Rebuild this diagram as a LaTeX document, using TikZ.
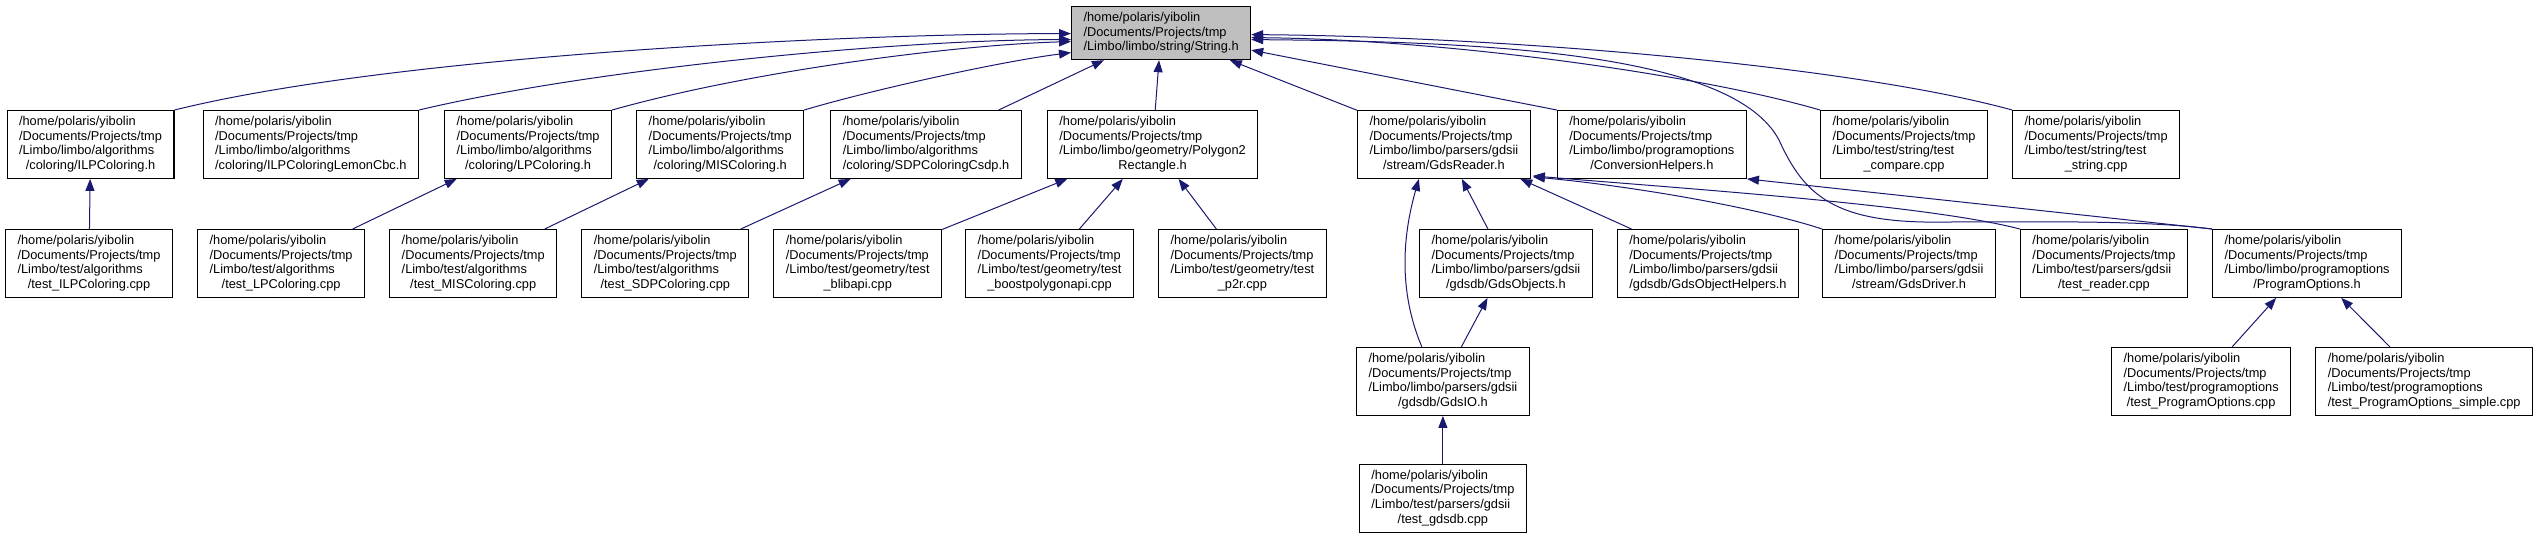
\documentclass[tikz,border=0pt]{standalone}
\usepackage{fontspec}
\setmainfont{Liberation Sans}
\usepackage{xcolor}
\usepackage{tikz}
\usetikzlibrary{arrows.meta, positioning, calc}
\definecolor{edgeblue}{RGB}{25,25,112}
\definecolor{rootgray}{RGB}{191,191,191}
\newcommand{\dotsize}{\fontsize{12.8}{14.7}\selectfont}
\newcommand{\dotpath}[2]{\begin{tabular}{@{}l@{}}/home/polaris/yibolin\\/Documents/Projects/tmp\\#1\\\multicolumn{1}{@{}c@{}}{#2}\end{tabular}}
\tikzstyle{file}  = [rectangle, draw=black, line width=1.1pt, fill=white,
                     inner xsep=12pt, inner ysep=4.5pt]
\tikzstyle{rfile} = [file, fill=rootgray]
\tikzstyle{incl}  = [-{Triangle[length=12pt, width=9pt]}, edgeblue, line width=1pt]

\begin{document}
\begin{tikzpicture}[x=1pt, y=-1pt, font=\dotsize, node distance=24pt]
  \useasboundingbox (0,0) rectangle (2540,541);

  % Root header
  \node[rfile, anchor=north west] (str) at (1071,6)
    {\begin{tabular}{@{}l@{}}/home/polaris/yibolin\\/Documents/Projects/tmp\\/Limbo/limbo/string/String.h\end{tabular}};

  % First level
  \node[file, anchor=north west] (ilp) at (6.5,110) {\dotpath{/Limbo/limbo/algorithms}{/coloring/ILPColoring.h}};
  \node[file, right=28pt of ilp]   (lemon) {\dotpath{/Limbo/limbo/algorithms}{/coloring/ILPColoringLemonCbc.h}};
  \node[file, right=25pt of lemon] (lp)    {\dotpath{/Limbo/limbo/algorithms}{/coloring/LPColoring.h}};
  \node[file, right=of lp]         (mis)   {\dotpath{/Limbo/limbo/algorithms}{/coloring/MISColoring.h}};
  \node[file, right=26pt of mis]   (sdp)   {\dotpath{/Limbo/limbo/algorithms}{/coloring/SDPColoringCsdp.h}};
  \node[file, right=25pt of sdp]   (poly)  {\dotpath{/Limbo/limbo/geometry/Polygon2}{Rectangle.h}};
  \node[file, anchor=north west] (gdsr) at (1357,110) {\dotpath{/Limbo/limbo/parsers/gdsii}{/stream/GdsReader.h}};
  \node[file, right=26pt of gdsr]  (conv)  {\dotpath{/Limbo/limbo/programoptions}{/ConversionHelpers.h}};
  \node[file, anchor=north west] (tcmp) at (1820,110) {\dotpath{/Limbo/test/string/test}{\_compare.cpp}};
  \node[file, right=of tcmp]       (tstr)  {\dotpath{/Limbo/test/string/test}{\_string.cpp}};

  % Second level
  \node[file, anchor=north west] (tilp) at (5,229) {\dotpath{/Limbo/test/algorithms}{/test\_ILPColoring.cpp}};
  \node[file, right=of tilp]       (tlp)    {\dotpath{/Limbo/test/algorithms}{/test\_LPColoring.cpp}};
  \node[file, right=of tlp]        (tmis)   {\dotpath{/Limbo/test/algorithms}{/test\_MISColoring.cpp}};
  \node[file, right=of tmis]       (tsdp)   {\dotpath{/Limbo/test/algorithms}{/test\_SDPColoring.cpp}};
  \node[file, right=of tsdp]       (tbli)   {\dotpath{/Limbo/test/geometry/test}{\_blibapi.cpp}};
  \node[file, right=23pt of tbli]  (tboost) {\dotpath{/Limbo/test/geometry/test}{\_boostpolygonapi.cpp}};
  \node[file, right=of tboost]     (tp2r)   {\dotpath{/Limbo/test/geometry/test}{\_p2r.cpp}};
  \node[file, anchor=north west] (gobj) at (1419,229) {\dotpath{/Limbo/limbo/parsers/gdsii}{/gdsdb/GdsObjects.h}};
  \node[file, right=of gobj]       (ghelp)  {\dotpath{/Limbo/limbo/parsers/gdsii}{/gdsdb/GdsObjectHelpers.h}};
  \node[file, right=23pt of ghelp] (gdrv)   {\dotpath{/Limbo/limbo/parsers/gdsii}{/stream/GdsDriver.h}};
  \node[file, right=of gdrv]       (trdr)   {\dotpath{/Limbo/test/parsers/gdsii}{/test\_reader.cpp}};
  \node[file, right=of trdr]       (popt)   {\dotpath{/Limbo/limbo/programoptions}{/ProgramOptions.h}};

  % Third and fourth level
  \node[file, anchor=north west] (gdsio) at (1356,347) {\dotpath{/Limbo/limbo/parsers/gdsii}{/gdsdb/GdsIO.h}};
  \node[file, anchor=north west] (tpo) at (2111,347) {\dotpath{/Limbo/test/programoptions}{/test\_ProgramOptions.cpp}};
  \node[file, right=of tpo]        (tpos)   {\dotpath{/Limbo/test/programoptions}{/test\_ProgramOptions\_simple.cpp}};
  \node[file, below=48pt of gdsio] (tgds)   {\dotpath{/Limbo/test/parsers/gdsii}{/test\_gdsdb.cpp}};

  % Includes of String.h
  \draw[incl] (ilp.north east) .. controls +(222,-55) and +(-221,0) .. ($(str.west)+(0,0.5)$);
  \draw[incl] (lemon.north east) .. controls +(177,-42) and +(-171,0) .. ($(str.west)+(0,6.5)$);
  \draw[incl] (lp.north east) .. controls +(142,-40) and +(-111,3) .. ($(str.west)+(0,8.5)$);
  \draw[incl] (mis.north east) .. controls +(67,-20) and +(-71,9) .. ($(str.west)+(0,19.5)$);
  \draw[incl] (sdp) -- (str);
  \draw[incl] (poly) -- (str);
  \draw[incl] (gdsr) -- (str);
  \draw[incl] (conv.north west) -- ($(str.east)+(0,17)$);
  \draw[incl] (tcmp.north west) .. controls +(-120,-35) and +(198,2) .. ($(str.east)+(0,4.5)$);
  \draw[incl] (tstr.north west) .. controls +(-164,-45) and +(248,2) .. ($(str.east)+(0,1.5)$);
  \draw[incl] (popt.north west) .. controls +(-70,-9) and +(100,0) .. ++(-268,-7)
              .. controls +(-110,2) and +(25,55) .. ++(-165,-82)
              .. controls +(-45,-85) and +(250,2) .. ($(str.east)+(0,6.5)$);

  % Second level includes
  \draw[incl] (tilp) -- (ilp);
  \draw[incl] (tlp) -- (lp);
  \draw[incl] (tmis) -- (mis);
  \draw[incl] (tsdp) -- (sdp);
  \draw[incl] (tbli) -- (poly);
  \draw[incl] (tboost) -- (poly);
  \draw[incl] (tp2r) -- (poly);
  \draw[incl] (gobj) -- (gdsr);
  \draw[incl] (ghelp) -- (gdsr);
  \draw[incl] (gdrv.north west) .. controls +(-74,-24) and +(88,8) .. ($(gdsr.south east)+(2,-2)$);
  \draw[incl] (trdr.north west) .. controls +(-93,-24) and +(168,14) .. ($(gdsr.south east)+(2,-3)$);
  \draw[incl] (popt.north west) -- (conv.south east);

  % Lower levels
  \draw[incl] ($(gdsio.north)+(-21,0)$) .. controls +(-24,-57) and +(-16,56) .. ($(gdsr.south)+(-25,0)$);
  \draw[incl] (gdsio) -- (gobj);
  \draw[incl] (tpo) -- (popt);
  \draw[incl] (tpos) -- (popt);
  \draw[incl] (tgds) -- (gdsio);
\end{tikzpicture}
\end{document}
